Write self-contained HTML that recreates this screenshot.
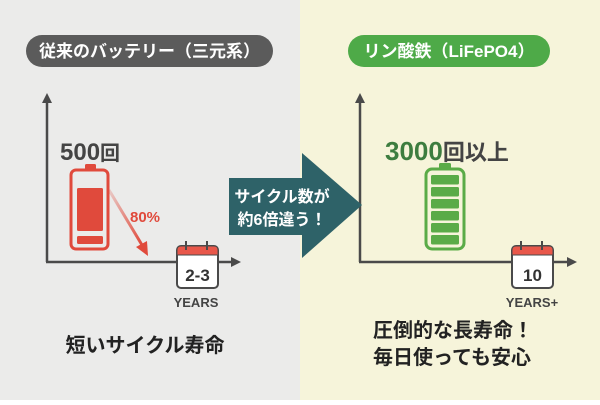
<!DOCTYPE html>
<html><head><meta charset="utf-8"><style>
body{margin:0;width:600px;height:400px;overflow:hidden;font-family:"Liberation Sans","Noto Sans CJK JP",sans-serif;}
</style></head><body>
<svg width="600" height="400" xmlns="http://www.w3.org/2000/svg" font-family="Liberation Sans, Noto Sans CJK JP, sans-serif">
<defs>
<marker id="ah" markerWidth="10" markerHeight="10" refX="5" refY="5" orient="auto" markerUnits="userSpaceOnUse"><path d="M0,0 L10,5 L0,10 z" fill="#4a4a4a"/></marker>
<linearGradient id="rg" x1="0" y1="0" x2="1" y2="1"><stop offset="0" stop-color="#e04a3c" stop-opacity="0.2"/><stop offset="1" stop-color="#e04a3c"/></linearGradient>
</defs>
<rect x="0" y="0" width="300" height="400" fill="#ebebea"/>
<rect x="300" y="0" width="300" height="400" fill="#f6f4da"/>
<rect x="26" y="35" width="247" height="32" rx="16" fill="#5b5b5b"/>
<text x="149.5" y="57" font-size="17" font-weight="bold" fill="#fff" text-anchor="middle">従来のバッテリー（三元系）</text>
<rect x="348" y="35" width="202" height="32" rx="16" fill="#4eaa48"/>
<text x="449" y="57" font-size="17" font-weight="bold" fill="#fff" text-anchor="middle">リン酸鉄（LiFePO4）</text>
<g stroke="#4a4a4a" stroke-width="2.5" fill="none">
<line x1="47" y1="262" x2="47" y2="98" marker-end="url(#ah)"/>
<line x1="46" y1="262" x2="236" y2="262" marker-end="url(#ah)"/>
<line x1="360" y1="262" x2="360" y2="98" marker-end="url(#ah)"/>
<line x1="359" y1="262" x2="572" y2="262" marker-end="url(#ah)"/>
</g>
<text x="60" y="160" font-size="24" font-weight="bold" fill="#444">500<tspan font-size="20">回</tspan></text>
<rect x="85" y="164" width="11" height="6" rx="1.5" fill="#e04a3c"/>
<rect x="71" y="170" width="37" height="79" rx="5" fill="none" stroke="#e04a3c" stroke-width="3"/>
<rect x="77" y="188" width="26" height="43" rx="1.5" fill="#e04a3c"/>
<rect x="77" y="236" width="26" height="8" rx="1.5" fill="#e04a3c"/>
<line x1="109" y1="190" x2="142" y2="245" stroke="url(#rg)" stroke-width="3"/>
<path d="M136,247 L148,256 L147,241 z" fill="#e04a3c"/>
<text x="130" y="222" font-size="15" font-weight="bold" fill="#e04a3c">80%</text>
<rect x="177" y="246" width="41" height="42" rx="4" fill="#fff" stroke="#4a4a4a" stroke-width="2"/>
<path d="M177,255 L177,250 Q177,246 181,246 L214,246 Q218,246 218,250 L218,255 z" fill="#e8574a" stroke="#4a4a4a" stroke-width="1"/>
<line x1="186" y1="241" x2="186" y2="250" stroke="#4a4a4a" stroke-width="2"/>
<line x1="207" y1="241" x2="207" y2="250" stroke="#4a4a4a" stroke-width="2"/>
<text x="197.5" y="281" font-size="17" font-weight="bold" fill="#333" text-anchor="middle">2-3</text>
<text x="196" y="307" font-size="13" font-weight="bold" fill="#444" text-anchor="middle">YEARS</text>
<text x="145" y="352" font-size="20" font-weight="bold" fill="#222" text-anchor="middle">短いサイクル寿命</text>
<path d="M229,178 L302,178 L302,153 L362,205 L302,258 L302,235 L229,235 z" fill="#2e6268"/>
<text x="282" y="202" font-size="16" font-weight="bold" fill="#fff" text-anchor="middle">サイクル数が</text>
<text x="282" y="225" font-size="16" font-weight="bold" fill="#fff" text-anchor="middle">約6倍違う！</text>
<text x="385" y="160" font-size="26" font-weight="bold" fill="#3d7d3f">3000<tspan fill="#444" font-size="22">回以上</tspan></text>
<rect x="439" y="163" width="12" height="6" rx="1.5" fill="#5aab47"/>
<rect x="426" y="169" width="38" height="80" rx="6" fill="none" stroke="#5aab47" stroke-width="3"/>
<g fill="#5aab47">
<rect x="431" y="175" width="28" height="9.5" rx="1.5"/>
<rect x="431" y="187" width="28" height="9.5" rx="1.5"/>
<rect x="431" y="199" width="28" height="9.5" rx="1.5"/>
<rect x="431" y="211" width="28" height="9.5" rx="1.5"/>
<rect x="431" y="223" width="28" height="9.5" rx="1.5"/>
<rect x="431" y="235" width="28" height="9.5" rx="1.5"/>
</g>
<rect x="512" y="246" width="41" height="42" rx="4" fill="#fff" stroke="#4a4a4a" stroke-width="2"/>
<path d="M512,255 L512,250 Q512,246 516,246 L549,246 Q553,246 553,250 L553,255 z" fill="#e8574a" stroke="#4a4a4a" stroke-width="1"/>
<line x1="521" y1="241" x2="521" y2="250" stroke="#4a4a4a" stroke-width="2"/>
<line x1="542" y1="241" x2="542" y2="250" stroke="#4a4a4a" stroke-width="2"/>
<text x="532.5" y="281" font-size="17" font-weight="bold" fill="#333" text-anchor="middle">10</text>
<text x="532" y="307" font-size="13" font-weight="bold" fill="#444" text-anchor="middle">YEARS+</text>
<text x="373" y="337" font-size="20" font-weight="bold" fill="#222">圧倒的な長寿命！</text>
<text x="373" y="364" font-size="20" font-weight="bold" fill="#222">毎日使っても安心</text>
</svg>
</body></html>
